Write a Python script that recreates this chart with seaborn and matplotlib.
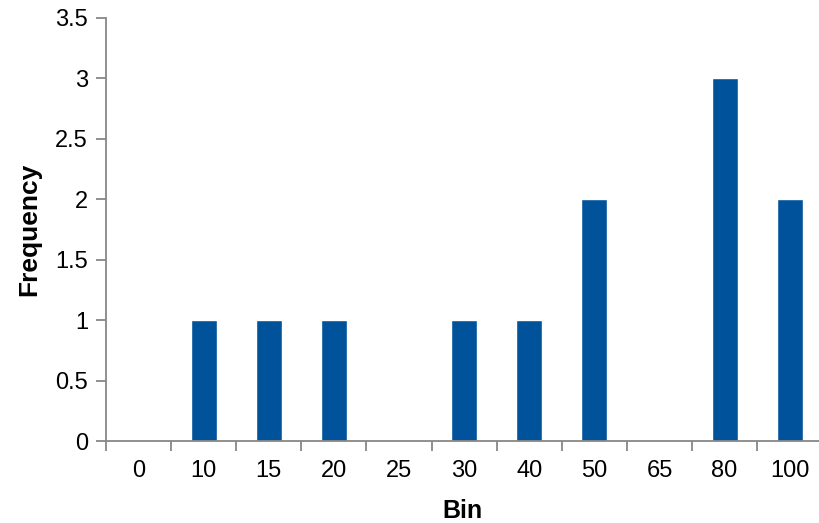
import matplotlib
matplotlib.use("Agg")
import matplotlib.pyplot as plt
import seaborn as sns
import pandas as pd
import numpy as np
from matplotlib.ticker import FixedLocator

bins = ["0", "10", "15", "20", "25", "30", "40", "50", "65", "80", "100"]
frequency = [0, 1, 1, 1, 0, 1, 1, 2, 0, 3, 2]
yticks = [0, 0.5, 1, 1.5, 2, 2.5, 3, 3.5]
ytick_labels = ["0", "0.5", "1", "1.5", "2", "2.5", "3", "3.5"]

df = pd.DataFrame({"Bin": bins, "Frequency": frequency})

sns.set_style("white")
plt.rcParams['font.family'] = ['Liberation Sans', 'DejaVu Sans']

fig = plt.figure(figsize=(8.19, 5.23), dpi=100)
ax = fig.add_axes([106/819, 82/523, 713/819, 423/523])

sns.barplot(data=df, x="Bin", y="Frequency", order=bins, color="#00539B",
            saturation=1, width=0.4, ax=ax)

ax.set_xlim(-0.5, 10.45)
ax.set_ylim(0, 3.5)
ax.set_yticks(yticks)
ax.set_yticklabels(ytick_labels)

for s in ["top", "right"]:
    ax.spines[s].set_visible(False)
for s in ["left", "bottom"]:
    ax.spines[s].set_color("#878787")
    ax.spines[s].set_linewidth(1.3)

ax.tick_params(axis="x", which="major", bottom=False, length=0, pad=14,
               labelsize=17, colors="black")
ax.xaxis.set_minor_locator(FixedLocator(np.arange(-0.5, 10.6, 1.0)))
ax.tick_params(axis="x", which="minor", bottom=True, length=7, width=1.3,
               color="#878787", direction="out")
ax.tick_params(axis="y", which="major", left=True, length=7, width=1.3,
               color="#878787", direction="out", labelsize=17,
               labelcolor="black", pad=6)

ax.set_xlabel("Bin", fontsize=18, fontweight="bold", labelpad=12, color="black")
ax.set_ylabel("Frequency", fontsize=19, fontweight="bold", labelpad=10, color="black")

fig.savefig("out.png", dpi=100)
